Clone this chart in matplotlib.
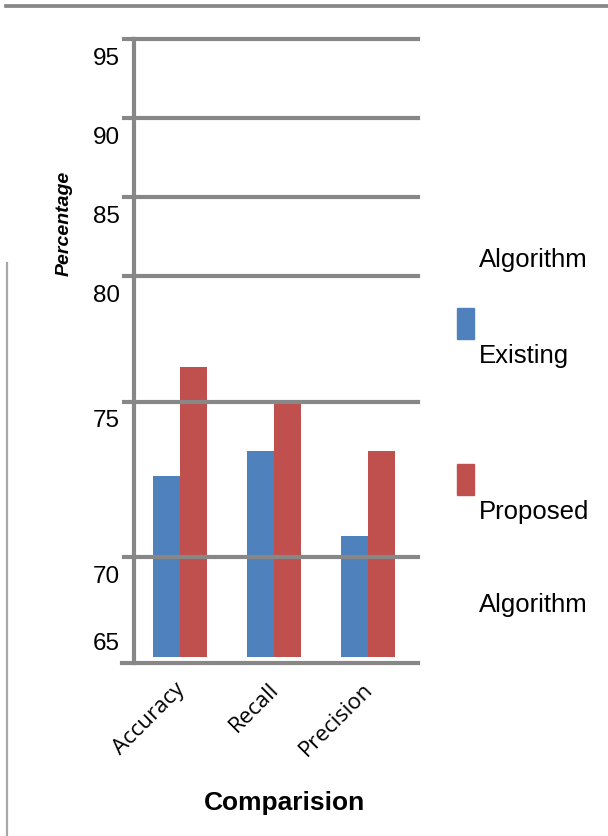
import matplotlib
matplotlib.use("Agg")
import matplotlib.pyplot as plt
import matplotlib.transforms as mtransforms
from matplotlib.lines import Line2D
from matplotlib.patches import Rectangle
import numpy as np

## data
categories = ["Accuracy", "Recall", "Precision"]
existing = [72.6, 73.4, 70.7]
proposed = [76.4, 75.0, 73.4]
legend_labels = ["Existing", "Proposed"]
yticks = [65, 70, 75, 80, 85, 90, 95]

# the source axis is unevenly spaced, so map it piecewise
scale_vals = [65, 70, 75, 80, 85, 90, 95]
scale_pos = [0.0, 99.4, 255.0, 380.4, 459.4, 538.4, 617.4]


def fwd(v):
    v = np.asarray(v, dtype=float)
    lo = scale_pos[0] + (v - scale_vals[0]) * 20.0
    return np.where(v < scale_vals[0], lo, np.interp(v, scale_vals, scale_pos))


def inv(p):
    p = np.asarray(p, dtype=float)
    lo = scale_vals[0] + (p - scale_pos[0]) / 20.0
    return np.where(p < scale_pos[0], lo, np.interp(p, scale_pos, scale_vals))


blue = "#4F81BD"
red = "#C0504D"
gray = "#878787"

plt.rcParams["font.family"] = ["Liberation Sans", "DejaVu Sans"]

fig = plt.figure(figsize=(6.08, 8.36), dpi=100)
ax = fig.add_axes([0.2209, 0.2066, 0.4661, 0.7464])
ax.set_yscale("function", functions=(fwd, inv))

x = np.arange(len(categories))
w = 0.284
ax.bar(x - w / 2, np.array(existing) - 65, w, bottom=65, color=blue, zorder=1)
ax.bar(x + w / 2, np.array(proposed) - 65, w, bottom=65, color=red, zorder=1)

ax.set_xlim(-0.487, 2.531)
ax.set_ylim(64.67, 95)
ax.set_yticks(yticks)
ax.set_yticklabels([str(t) for t in yticks], fontsize=17.5)
ax.yaxis.grid(True, color=gray, linewidth=3, zorder=3)
ax.set_axisbelow(False)
for g in ax.yaxis.get_gridlines():
    g.set_clip_on(False)
ax.yaxis.get_gridlines()[0].set_visible(False)
ax.yaxis.get_ticklines()[0].set_visible(False)
ax.tick_params(axis="y", length=8.4, width=3, color=gray, pad=2)

# labels sit below their lines in the original
for i, lab in enumerate(ax.get_yticklabels()):
    dy = 15 if i == 0 else -17
    off = mtransforms.ScaledTranslation(0, dy / 100.0, fig.dpi_scale_trans)
    lab.set_transform(lab.get_transform() + off)

ax.set_xticks(x)
ax.set_xticklabels(categories, rotation=45, ha="right", rotation_mode="anchor",
                   fontsize=16, family=["Open Sans", "DejaVu Sans"])
ax.tick_params(axis="x", length=0, pad=11)
for lab in ax.get_xticklabels():
    off = mtransforms.ScaledTranslation(-6 / 100.0, 0, fig.dpi_scale_trans)
    lab.set_transform(lab.get_transform() + off)

for s in ["top", "right"]:
    ax.spines[s].set_visible(False)
ax.spines["left"].set_color(gray)
ax.spines["left"].set_linewidth(3)
ax.spines["bottom"].set_color(gray)
ax.spines["bottom"].set_linewidth(3)
ax.spines["bottom"].set_bounds(-0.621, 2.531)

fig.text(284.5 / 608, 1 - 803 / 836, "Comparision", fontsize=19,
         fontweight="bold", ha="center", va="center")
fig.text(64 / 608, 1 - 223 / 836, "Percentage", rotation=90, fontsize=14,
         fontweight="bold", style="italic", ha="center", va="center")

# legend, laid out as in the source
fs = 18.5
fig.text(479 / 608, 1 - 260 / 836, "Algorithm", fontsize=fs, va="center")
fig.patches.append(Rectangle((457.3 / 608, 1 - 338.7 / 836), 16.7 / 608, 30.4 / 836,
                             color=blue, transform=fig.transFigure))
fig.text(479 / 608, 1 - 356 / 836, legend_labels[0], fontsize=fs, va="center")
fig.patches.append(Rectangle((457.3 / 608, 1 - 495 / 836), 16.7 / 608, 30.7 / 836,
                             color=red, transform=fig.transFigure))
fig.text(479 / 608, 1 - 511.7 / 836, legend_labels[1], fontsize=fs, va="center")
fig.text(479 / 608, 1 - 605 / 836, "Algorithm", fontsize=fs, va="center")

# frame lines from the page the chart was cut from
fig.add_artist(Line2D([6 / 608, 1], [1 - 6 / 836, 1 - 6 / 836], color=gray,
                      linewidth=2.7, transform=fig.transFigure))
fig.add_artist(Line2D([7 / 608, 7 / 608], [0, 1 - 263 / 836], color="#a8a8a8",
                      linewidth=1.6, transform=fig.transFigure))

fig.savefig("out.png", dpi=100)
